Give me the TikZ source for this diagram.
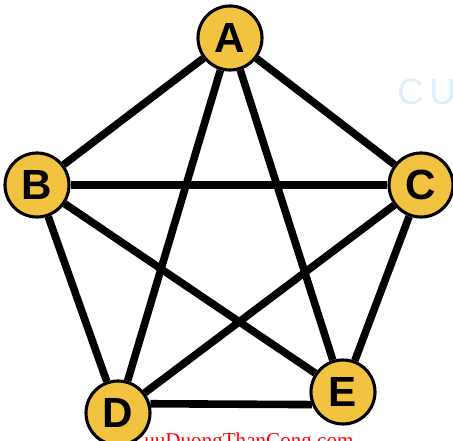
\documentclass[tikz,border=0pt]{standalone}
\usepackage{fontspec}
\setmainfont{Liberation Sans}
\newfontfamily\stampfont{Liberation Serif}
\usetikzlibrary{positioning,backgrounds}

\begin{document}
\begin{tikzpicture}[
  x=0.025cm, y=-0.025cm,
  vertex/.style={circle, draw=black, line width=2.2pt, fill={rgb,255:red,242;green,195;blue,64}, minimum size=1.6cm, inner sep=0pt, font=\fontsize{30}{30}\selectfont\bfseries},
  edge/.style={line width=5.4pt, draw=black},
  stamp/.style={inner sep=0pt, anchor=base west}
]
\useasboundingbox (0,0) rectangle (453,440);

\node[stamp, text={rgb,255:red,218;green,240;blue,251}, font=\fontsize{26}{26}\selectfont] (wmtop) at (397,104) {C\hspace{4pt}U};
\node[stamp, text=red, font=\fontsize{15}{15}\selectfont\stampfont] (wmbottom) at (130,447) {CuuDuongThanCong.com};

\node[vertex] (a) at (230,38) {A};
\node[vertex] (b) at (37,185) {B};
\node[vertex] (c) at (421,185) {C};
\node[vertex] (d) at (118,413) {D};
\node[vertex] (e) at (343,392) {E};

\begin{pgfonlayer}{background}
\draw[edge] (a) -- (b);
\draw[edge] (a) -- (c);
\draw[edge] (a) -- (d);
\draw[edge] (a) -- (e);
\draw[edge] (b) -- (c);
\draw[edge] (b) -- (d);
\draw[edge] (b) -- (e);
\draw[edge] (c) -- (d);
\draw[edge] (c) -- (e);
\draw[edge] (d.16) -- (e.202);
\end{pgfonlayer}

\end{tikzpicture}
\end{document}
